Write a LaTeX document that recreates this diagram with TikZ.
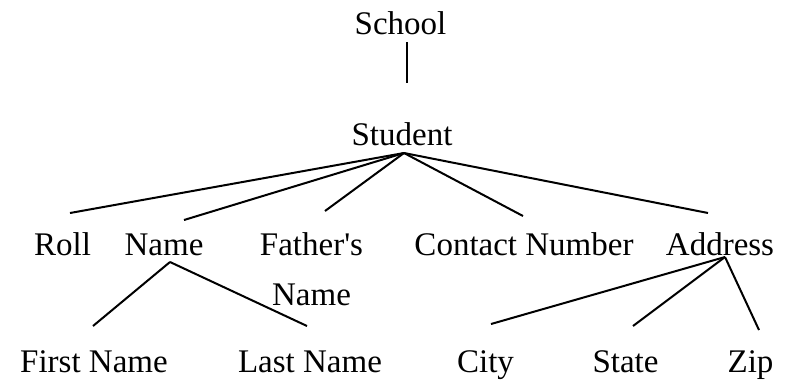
\documentclass[tikz,border=0pt]{standalone}
\usepackage{fontspec}
\newfontfamily\plainserif{Liberation Serif}
\begin{document}
\begin{tikzpicture}[x=0.75pt,y=-0.75pt,
		entry/.style={inner sep=0pt,anchor=base,align=center,font=\plainserif\fontsize{24.75}{37.5}\selectfont},
		link/.style={line width=1.5pt}]
		\useasboundingbox (0,0) rectangle (791,380);
		\node[entry] (school) at (400.5,34) {School};
		\node[entry] (student) at (402,145) {Student};
		\node[entry] (roll) at (62.5,255) {Roll};
		\node[entry] (name) at (164,255) {Name};
		\node[entry] (fathers) at (311.5,305) {Father's\\Name};
		\node[entry] (contact) at (524,255) {Contact Number};
		\node[entry] (address) at (720,255) {Address};
		\node[entry] (first) at (94,372) {First Name};
		\node[entry] (last) at (310,372) {Last Name};
		\node[entry] (city) at (485.5,372) {City};
		\node[entry] (state) at (625.5,372) {State};
		\node[entry] (zip) at (750.5,372) {Zip};
		\coordinate (school-out) at ([shift={(6.5,8)}]school.base);
		\coordinate (stem) at (407,83);
		\coordinate (student-out) at ([shift={(2,8)}]student.base);
		\coordinate (name-out) at ([shift={(6,7)}]name.base);
		\coordinate (address-out) at ([shift={(5,2)}]address.base);
		\coordinate (roll-in) at (70,213);
		\coordinate (name-in) at (184,220);
		\coordinate (fathers-in) at (325,211);
		\coordinate (contact-in) at (523,216);
		\coordinate (address-in) at (708,213);
		\coordinate (first-in) at (93,326);
		\coordinate (last-in) at (307,326);
		\coordinate (city-in) at (491,324);
		\coordinate (state-in) at (633,326);
		\coordinate (zip-in) at (759,330);
		\draw [line width=2pt] (school-out) to (stem);
		\draw [link] (student-out) to (roll-in);
		\draw [link] (student-out) to (name-in);
		\draw [link] (student-out) to (fathers-in);
		\draw [link] (student-out) to (contact-in);
		\draw [link] (student-out) to (address-in);
		\draw [link] (name-out) to (first-in);
		\draw [link] (name-out) to (last-in);
		\draw [link] (address-out) to (city-in);
		\draw [link] (address-out) to (state-in);
		\draw [link] (address-out) to (zip-in);
	\end{tikzpicture}
\end{document}
